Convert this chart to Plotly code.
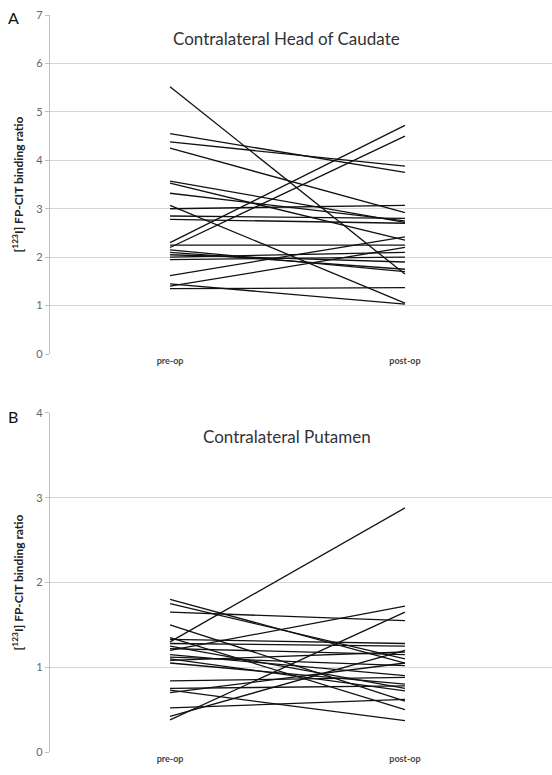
import plotly.graph_objects as go

categories = ["pre-op", "post-op"]

caudate_pre = [5.52, 4.55, 4.38, 4.25, 3.57, 3.53, 3.32, 3.07, 3.00, 2.85, 2.78,
               2.30, 2.25, 2.20, 2.15, 2.10, 2.05, 2.00, 1.95, 1.62, 1.45, 1.40, 1.35]
caudate_post = [1.65, 3.75, 3.88, 2.92, 2.72, 2.35, 2.75, 1.05, 3.07, 2.80, 2.70,
                4.72, 2.25, 4.50, 1.70, 1.75, 1.90, 2.10, 2.00, 2.42, 1.03, 2.20, 1.37]

putamen_pre = [1.80, 1.75, 1.65, 1.50, 1.35, 1.33, 1.30, 1.28, 1.25, 1.22, 1.20, 1.15,
               1.12, 1.10, 1.08, 1.05, 0.84, 0.75, 0.73, 0.70, 0.52, 0.42, 0.38]
putamen_post = [1.05, 1.10, 1.55, 0.60, 0.50, 1.28, 2.88, 1.25, 0.75, 1.15, 1.72, 0.90,
                1.02, 0.72, 1.18, 0.80, 0.88, 0.78, 0.37, 1.05, 0.62, 1.20, 1.65]

y_title = "<b>[<sup>123</sup>I] FP-CIT binding ratio</b>"

fig = go.Figure()
xpos = [0, 1]
for a, b in zip(caudate_pre, caudate_post):
    fig.add_trace(go.Scatter(x=xpos, y=[a, b], mode="lines",
                             line=dict(color="#111111", width=1.3),
                             showlegend=False, xaxis="x", yaxis="y"))
for a, b in zip(putamen_pre, putamen_post):
    fig.add_trace(go.Scatter(x=xpos, y=[a, b], mode="lines",
                             line=dict(color="#111111", width=1.3),
                             showlegend=False, xaxis="x2", yaxis="y2"))

xcommon = dict(range=[-0.511, 1.626], tickvals=xpos,
               ticktext=["<b>%s</b>" % c for c in categories],
               showgrid=False, zeroline=False, showline=False,
               ticks="", tickfont=dict(family="Lato", size=9, color="#444444"),
               fixedrange=True)
ycommon = dict(showgrid=True, gridcolor="#d6d6d6", gridwidth=1.3,
               zeroline=False, showline=True, linecolor="#bfbfbf", linewidth=1.3,
               ticks="outside", ticklen=4, tickcolor="#bfbfbf",
               tickfont=dict(family="Lato", size=11, color="#666666"),
               title=dict(text=y_title, font=dict(family="Lato", size=12, color="#222222"),
                          standoff=10))

plot_w = 552 - 50
plot_h = 775 - 15 - 23


def px_to_paper(px, py):
    return (px - 50) / plot_w, (775 - 23 - py) / plot_h


ax, ay = px_to_paper(13, 18)
bx, by = px_to_paper(13, 417)

fig.update_layout(
    width=552, height=775,
    margin=dict(l=50, r=0, t=15, b=23),
    paper_bgcolor="white", plot_bgcolor="white",
    xaxis=dict(domain=[0, 1], anchor="y", **xcommon),
    yaxis=dict(domain=[0.540, 1.0], anchor="x", range=[0, 7], dtick=1, **ycommon),
    xaxis2=dict(domain=[0, 1], anchor="y2", **xcommon),
    yaxis2=dict(domain=[0.0, 0.46], anchor="x2", range=[0, 4], dtick=1, **ycommon),
    annotations=[
        dict(text="Contralateral Head of Caudate", x=0.472, y=0.985, xref="paper", yref="paper",
             showarrow=False, xanchor="center", yanchor="top",
             font=dict(family="Lato", size=17, color="#333333")),
        dict(text="Contralateral Putamen", x=0.472, y=0.445, xref="paper", yref="paper",
             showarrow=False, xanchor="center", yanchor="top",
             font=dict(family="Lato", size=17, color="#333333")),
        dict(text="A", x=ax, y=ay, xref="paper", yref="paper", showarrow=False,
             xanchor="center", yanchor="middle",
             font=dict(family="Lato", size=16, color="#111111")),
        dict(text="B", x=bx, y=by, xref="paper", yref="paper", showarrow=False,
             xanchor="center", yanchor="middle",
             font=dict(family="Lato", size=16, color="#111111")),
    ],
)

fig.write_html("out.html")
